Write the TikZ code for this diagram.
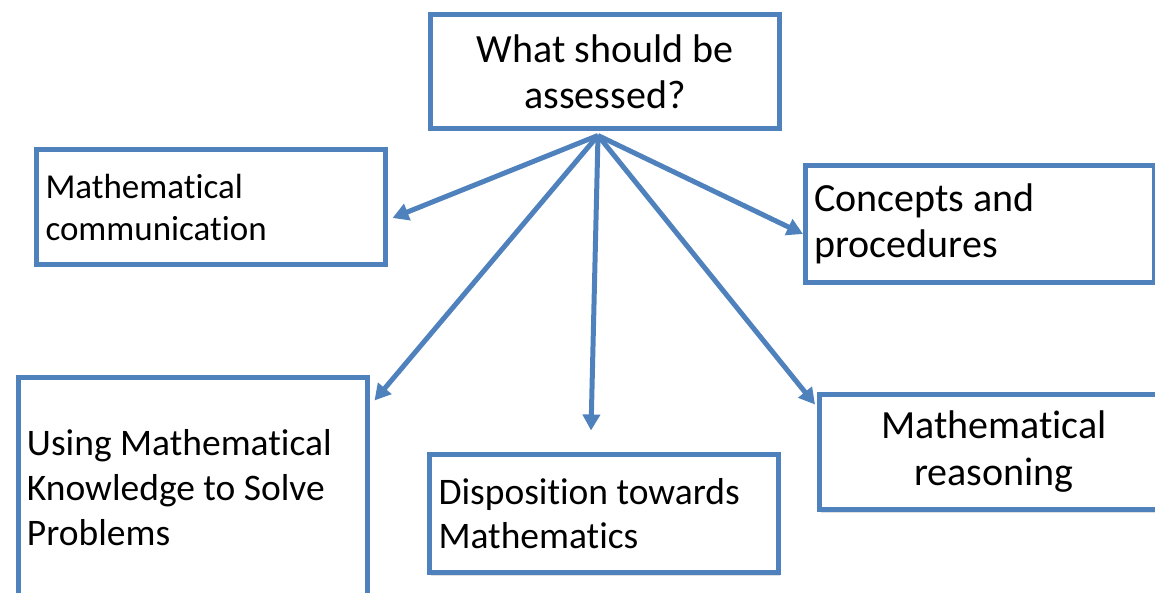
\documentclass[tikz,border=0pt]{standalone}
\usepackage{fontspec}
\setmainfont{Carlito}[Ligatures={NoCommon,NoContextual,NoRequired},Contextuals=NoAlternate]
\usetikzlibrary{arrows.meta,shadows}
\definecolor{boxblue}{RGB}{79,129,189}

\begin{document}
\begin{tikzpicture}[x=1pt,y=-1pt,
  box/.style={draw=boxblue, line width=5pt, fill=white, minimum width=349pt, inner xsep=9pt,
    execute at begin node={\spaceskip=0pt\xspaceskip=0pt},
    drop shadow={opacity=0.25, shadow xshift=1pt, shadow yshift=-3pt}},
  lbox/.style={box, text width=331pt, align=left},
  link/.style={draw=boxblue, line width=5pt, -{Triangle[length=16pt,width=17pt]}}]
\clip (0,0) rectangle (1155,593);
\node[box, minimum height=114pt, align=center, font=\fontsize{40}{46}\selectfont] (top) at (605,71.5) {What should be\\assessed?};
\node[lbox, minimum height=115pt, font=\fontsize{35}{42}\selectfont] (comm) at (211,207) {Mathematical\\communication};
\node[lbox, minimum height=117pt, font=\fontsize{40}{46}\selectfont] (concepts) at (980,224) {Concepts and\\procedures};
\node[lbox, minimum height=220pt, font=\fontsize{37.5}{45}\selectfont] (using) at (192.5,487.5) {Using Mathematical\\Knowledge to Solve\\Problems};
\node[lbox, minimum height=118pt, font=\fontsize{37.5}{44}\selectfont] (disp) at (604,513.5) {Disposition towards\\Mathematics};
\node[box, minimum height=115pt, align=center, font=\fontsize{40}{47}\selectfont] (reason) at (994,452) {Mathematical\\reasoning};
% arrows fanning out from the question box
\coordinate (hub) at ([xshift=-7pt,yshift=-4.5pt]top.south);
\draw[link] (hub) -- ([xshift=4.5pt,yshift=-11pt]comm.east);
\draw[link] (hub) -- ([yshift=-10pt]concepts.west);
\draw[link] (hub) -- ([xshift=5pt,yshift=-25.5pt]using.north east);
\draw[link] (hub) -- ([xshift=-13pt,yshift=21.5pt]disp.north);
\draw[link] (hub) -- ([xshift=-2pt,yshift=-12.5pt]reason.north west);
\end{tikzpicture}
\end{document}
